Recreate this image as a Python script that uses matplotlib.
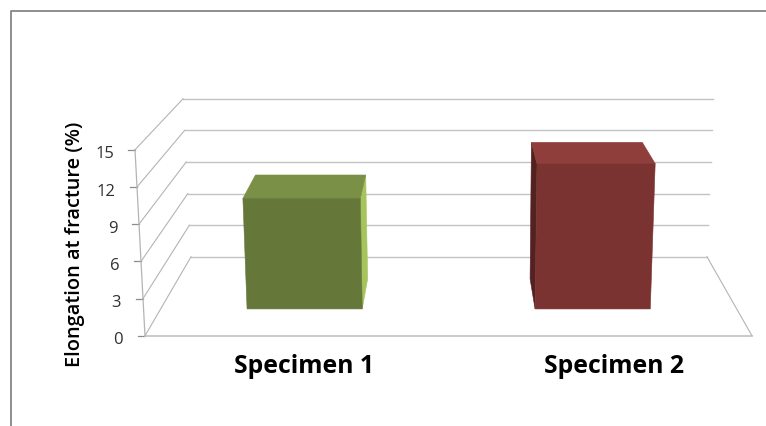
import numpy as np
import matplotlib
matplotlib.use("Agg")
import matplotlib.pyplot as plt
from matplotlib.patches import Polygon
from matplotlib.lines import Line2D
from matplotlib.transforms import ScaledTranslation

# ---- data ----
categories = ["Specimen 1", "Specimen 2"]
values = [9.4, 12.35]
y_ticks = [0, 3, 6, 9, 12, 15]
y_label = "Elongation at fracture (%)"

# ---- style ----
front_colors = ["#66773A", "#7A3331"]
top_colors = ["#7A9046", "#8F3E3B"]
side_colors = ["#A5C45C", "#532220"]
W, H = 766, 427
plt.rcParams["font.family"] = ["Open Sans", "DejaVu Sans"]

fig = plt.figure(figsize=(W / 100, H / 100), dpi=100, facecolor="white")
L, R, B, T = 145, 752, 336, 150
ax = fig.add_axes([L / W, 1 - (B + 0.8) / H, (R - L) / W, (B - T) / H])
unit = 310.0
ax.set_xlim((L - 304) / unit + 0.5, (R - 304) / unit + 0.5)
ax.set_ylim(0, 15)
ax.patch.set_alpha(0)
for s in ax.spines.values():
    s.set_visible(False)


def to_data(px, py):
    return ((px - 304) / unit + 0.5, (B - py) / (B - T) * 15)


# pixel corners of the 3-D box: [u][v][z]
corners = {
    (0, 0, 0): (145, 336), (0, 1, 0): (135, 150),
    (1, 0, 0): (752, 336), (1, 1, 0): (762, 150),
    (0, 0, 1): (191, 257), (0, 1, 1): (183, 99),
    (1, 0, 1): (707, 257), (1, 1, 1): (713, 99),
}


def project(pos, val, z):
    """category position (0..2), value (0..15), depth (0..1) -> axes data."""
    u, v = pos / 2, val / 15
    px = py = 0.0
    for (a, b, c), (cx, cy) in corners.items():
        w = (u if a else 1 - u) * (v if b else 1 - v) * (z if c else 1 - z)
        px += w * cx
        py += w * cy
    return to_data(px, py)


def line(p, q, color, lw):
    ax.add_line(Line2D(*zip(p, q), color=color, lw=lw, clip_on=False, zorder=1))


# walls and floor
for t in y_ticks:
    line(project(0, t, 1), project(2, t, 1), "#C2C2C2", 1.0)
    line(project(0, t, 0), project(0, t, 1), "#B4B4B4", 0.8)
    a = project(0, t, 0)
    line((a[0] - 7 / unit, a[1]), a, "#8C8C8C", 0.9)
line(project(0, 0, 0), project(2, 0, 0), "#C2C2C2", 1.2)
line(project(2, 0, 0), project(2, 0, 1), "#B4B4B4", 0.8)
line(project(0, 0, 0), project(0, 15, 0), "#B4B4B4", 0.9)

# bars
half, z0, z1 = 0.2, 0.34, 0.72
positions = [0.5, 1.5]
for i, (pos, val) in enumerate(zip(positions, values)):
    a, b = pos - half, pos + half
    front = [project(a, 0, z0), project(b, 0, z0), project(b, val, z0), project(a, val, z0)]
    top = [project(a, val, z0), project(b, val, z0), project(b, val, z1), project(a, val, z1)]
    sx = b if i == 0 else a
    side = [project(sx, 0, z0), project(sx, 0, z1), project(sx, val, z1), project(sx, val, z0)]
    for pts, col in ((side, side_colors[i]), (top, top_colors[i]), (front, front_colors[i])):
        ax.add_patch(Polygon(pts, closed=True, facecolor=col, edgecolor=col, lw=0.4,
                             clip_on=False, zorder=3))

# axes text
ax.set_xticks(positions)
ax.set_xticklabels(categories, fontsize=17.8, fontweight="bold", color="black")
ax.tick_params(axis="x", length=0, pad=12.5)
ax.set_yticks(y_ticks)
ax.set_yticklabels([str(t) for t in y_ticks], fontsize=12, color="#303030")
ax.tick_params(axis="y", length=0)
shift = ScaledTranslation(0, -1.5 / 72 * 0.72, fig.dpi_scale_trans)
for tick, t in zip(ax.yaxis.get_major_ticks(), y_ticks):
    tick.set_pad((22 + 9 * t / 15) * 0.72)
    tick.label1.set_transform(tick.label1.get_transform() + shift)
ax.set_ylabel(y_label, fontsize=14.4, fontweight="semibold", color="black")
ax.yaxis.set_label_coords((85 - L) / (R - L), (B - 243.5) / (B - T))

# outer frame
fig.add_artist(Line2D([11 / W, 11 / W, 1], [0, 1 - 12 / H, 1 - 12 / H],
                      color="#868686", lw=1.3, transform=fig.transFigure))

fig.savefig("out.png", dpi=100)
